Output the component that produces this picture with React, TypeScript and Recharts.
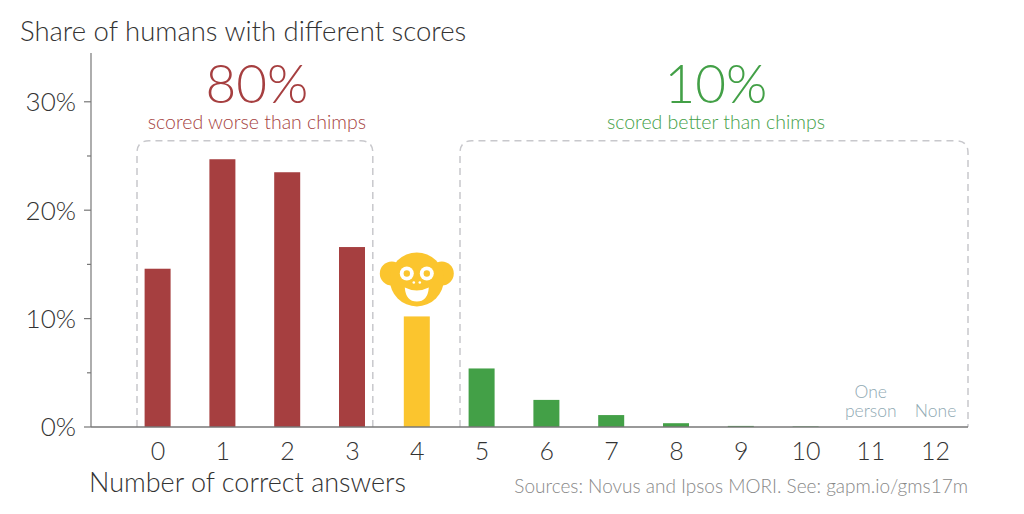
import { BarChart, Bar, XAxis, YAxis, ReferenceArea } from 'recharts';

// correct answers (0-12) and share of respondents in %
const categories = ['0', '1', '2', '3', '4', '5', '6', '7', '8', '9', '10', '11', '12'];
const shares = [14.6, 24.7, 23.5, 16.6, 10.2, 5.4, 2.5, 1.1, 0.35, 0.1, 0.05, 0, 0];
const groups = ['worse', 'worse', 'worse', 'worse', 'chimp', 'better', 'better', 'better', 'better', 'better', 'better', 'better', 'better'];
const notes = ['', '', '', '', '', '', '', '', '', '', '', 'One|person', 'None'];
const yTicks = [0, 5, 10, 15, 20, 25, 30];

const groupColors: Record<string, string> = {
  worse: '#A63F40',
  chimp: '#FBC52E',
  better: '#43A047',
};

const FONT = 'Lato, "Open Sans", sans-serif';
const TEXT = '#333';

const data = categories.map((cat, i) => ({
  cat,
  share: shares[i],
  group: groups[i],
  note: notes[i],
}));

const Monkey = ({ cx, bottom, color }: { cx: number; bottom: number; color: string }) => {
  const cy = bottom - 27;
  return (
    <g>
      <circle cx={cx - 25} cy={cy - 6} r={12} fill={color} />
      <circle cx={cx + 25} cy={cy - 6} r={12} fill={color} />
      <circle cx={cx} cy={cy} r={27} fill={color} />
      <circle cx={cx - 10} cy={cy - 6} r={7} fill="#fff" />
      <circle cx={cx + 10} cy={cy - 6} r={7} fill="#fff" />
      <circle cx={cx - 10} cy={cy - 6} r={3.2} fill={color} />
      <circle cx={cx + 10} cy={cy - 6} r={3.2} fill={color} />
      <circle cx={cx - 3} cy={cy + 3} r={1.3} fill="#fff" />
      <circle cx={cx + 3} cy={cy + 3} r={1.3} fill="#fff" />
      <path
        d={`M ${cx - 12} ${cy + 8} Q ${cx} ${cy + 14} ${cx + 12} ${cy + 8} Q ${cx + 11} ${cy + 22} ${cx} ${cy + 22} Q ${cx - 11} ${cy + 22} ${cx - 12} ${cy + 8} Z`}
        fill="#fff"
      />
    </g>
  );
};

const BarShape = (props: any) => {
  const { x, y, width, height, payload } = props;
  const color = groupColors[payload.group];
  return (
    <g>
      <rect x={x} y={y} width={width} height={Math.max(0, height)} fill={color} />
      {payload.group === 'chimp' && <Monkey cx={x + width / 2} bottom={y - 10} color={color} />}
    </g>
  );
};

const makeBox = (insetL: number, insetR: number, big: string, sub: string, color: string) => (props: any) => {
  const { x, y, width, height } = props;
  const left = x + insetL;
  const right = x + width - insetR;
  const top = y;
  const bottom = y + height;
  const r = 12;
  const cx = (left + right) / 2;
  return (
    <g>
      <path
        d={`M ${left} ${bottom} L ${left} ${top + r} Q ${left} ${top} ${left + r} ${top} L ${right - r} ${top} Q ${right} ${top} ${right} ${top + r} L ${right} ${bottom}`}
        fill="none"
        stroke="#C8C8CC"
        strokeWidth={1.5}
        strokeDasharray="7 5"
      />
      <text x={cx + 2} y={top - 38} textAnchor="middle" fontSize={53} fontWeight={300} fill={color} fontFamily={FONT}>
        {big}
      </text>
      <text x={cx + 2} y={top - 12} textAnchor="middle" fontSize={19.5} fontWeight={300} fill={color} fontFamily={FONT}>
        {sub}
      </text>
    </g>
  );
};

const YTick = (props: any) => {
  const { x, y, payload } = props;
  const major = payload.value % 10 === 0;
  return (
    <g>
      <line x1={x - (major ? 7 : 4)} x2={x} y1={y} y2={y} stroke="#777" strokeWidth={1.2} />
      {major && (
        <text x={x - 15} y={y} dy="0.36em" textAnchor="end" fontSize={26} fontWeight={300} fill={TEXT} fontFamily={FONT}>
          {`${payload.value}%`}
        </text>
      )}
    </g>
  );
};

const XTick = (props: any) => {
  const { x, y, payload, index } = props;
  const note = notes[index] || '';
  const lines = note ? note.split('|') : [];
  return (
    <g>
      <text x={x} y={y + 33} textAnchor="middle" fontSize={25} fontWeight={300} fill={TEXT} fontFamily={FONT}>
        {payload.value}
      </text>
      {lines.map((ln, i) => (
        <text
          key={i}
          x={x}
          y={y - 10 - (lines.length - 1 - i) * 19}
          textAnchor="middle"
          fontSize={17.5}
          fontWeight={300}
          fill="#8FA9B3"
          fontFamily={FONT}
        >
          {ln}
        </text>
      ))}
    </g>
  );
};

export default function App() {
  return (
    <div style={{ position: 'absolute', left: 0, top: 0, width: 1024, height: 514, background: '#fff' }}>
      <BarChart
        width={1024}
        height={514}
        data={data}
        margin={{ top: 53, right: 56, bottom: 47, left: 0 }}
      >
        <XAxis
          dataKey="cat"
          padding={{ left: 34.6, right: 0 }}
          tickSize={0}
          tickMargin={0}
          tickLine={false}
          height={40}
          interval={0}
          stroke="#777"
          strokeWidth={1.5}
          tick={<XTick />}
        />
        <YAxis
          domain={[0, 34.5]}
          ticks={yTicks}
          width={91}
          tickSize={0}
          tickMargin={0}
          tickLine={false}
          stroke="#777"
          strokeWidth={1.2}
          tick={<YTick />}
        />
        <ReferenceArea
          x1="0"
          x2="3"
          y1={0}
          y2={26.4}
          ifOverflow="visible"
          shape={makeBox(11.4, 12, '80%', 'scored worse than chimps', groupColors.worse)}
        />
        <ReferenceArea
          x1="5"
          x2="12"
          y1={0}
          y2={26.4}
          ifOverflow="visible"
          shape={makeBox(10.4, 0, '10%', 'scored better than chimps', groupColors.better)}
        />
        <Bar dataKey="share" barSize={26} isAnimationActive={false} shape={<BarShape />} />
      </BarChart>
      <svg width={1024} height={514} style={{ position: 'absolute', left: 0, top: 0, pointerEvents: 'none' }}>
        <text x={20} y={41} fontSize={27.5} fontWeight={300} fill={TEXT} fontFamily={FONT}>
          Share of humans with different scores
        </text>
        <text x={89} y={492} fontSize={27} fontWeight={300} fill={TEXT} fontFamily={FONT}>
          Number of correct answers
        </text>
        <text x={968} y={493} textAnchor="end" fontSize={19} fontWeight={300} fill="#888" fontFamily={FONT}>
          Sources: Novus and Ipsos MORI. See: gapm.io/gms17m
        </text>
      </svg>
    </div>
  );
}
